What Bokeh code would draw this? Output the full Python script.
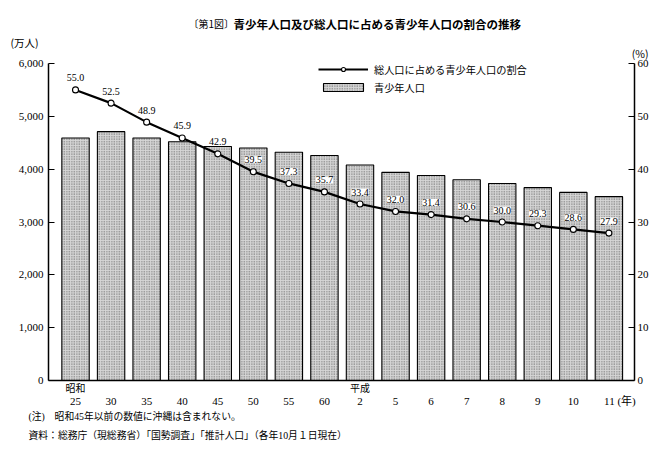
from bokeh.plotting import figure
from bokeh.models import (Range1d, LinearAxis, FixedTicker, NumeralTickFormatter,
                          ColumnDataSource, LabelSet, Title, Legend, LegendItem)
from bokeh.core.properties import value
from bokeh.embed import file_html
from bokeh.resources import INLINE

# ---- data ----
years = ["25", "30", "35", "40", "45", "50", "55", "60",
         "2", "5", "6", "7", "8", "9", "10", "11"]
era_labels = {0: "昭和", 8: "平成"}
youth_pop = [4590, 4710, 4590, 4520, 4430, 4400, 4320, 4260,
             4080, 3940, 3880, 3800, 3730, 3650, 3560, 3480]
youth_share = [55.0, 52.5, 48.9, 45.9, 42.9, 39.5, 37.3, 35.7,
               33.4, 32.0, 31.4, 30.6, 30.0, 29.3, 28.6, 27.9]
left_ticks = [0, 1000, 2000, 3000, 4000, 5000, 6000]
right_ticks = [0, 10, 20, 30, 40, 50, 60]
title_prefix = "〔第1図〕"
title_main = "青少年人口及び総人口に占める青少年人口の割合の推移"
legend_line = "総人口に占める青少年人口の割合"
legend_bar = "青少年人口"
note1 = "(注)　昭和45年以前の数値に沖縄は含まれない。"
note2 = "資料：総務庁（現総務省）「国勢調査」「推計人口」（各年10月１日現在）"
left_unit = "(万人)"
right_unit = "(%)"
x_unit = "(年)"

SERIF = "Liberation Serif, Noto Sans CJK JP"
JP = "Noto Sans CJK JP"

idx = list(range(len(years)))
share_text = ["%.1f" % v for v in youth_share]
src = ColumnDataSource(dict(x=idx, pop=youth_pop, share=youth_share, txt=share_text))

p = figure(width=651, height=442, output_backend="svg", toolbar_location=None,
           x_range=Range1d(-0.76, 15.72), y_range=Range1d(0, 6000),
           min_border_left=48, min_border_right=17, min_border_top=63,
           min_border_bottom=60)
p.title = None
p.outline_line_color = None
p.background_fill_color = "white"
p.border_fill_color = "white"
p.xgrid.visible = False
p.ygrid.visible = False
p.extra_y_ranges = {"pct": Range1d(0, 60)}

bars = p.vbar(x="x", top="pop", width=0.77, bottom=0, source=src,
              fill_color="#d6d6d6", line_color="black", line_width=1.1,
              hatch_pattern="dot", hatch_scale=2.5, hatch_weight=1,
              hatch_color="#5a5a5a")
ln = p.line(x="x", y="share", source=src, y_range_name="pct",
            line_color="black", line_width=2.2)
mk = p.scatter(x="x", y="share", source=src, y_range_name="pct", size=6,
               fill_color="white", line_color="black", line_width=1.1)

labels = LabelSet(x="x", y="share", text="txt", source=src, y_range_name="pct",
                  y_offset=12, text_align="center", text_baseline="middle",
                  text_font=value(SERIF), text_font_size="10px", text_color="black",
                  background_fill_color="white")
p.add_layout(labels)

# ---- x axes: era row (primary) and year-number row ----
xa = p.xaxis[0]
xa.ticker = FixedTicker(ticks=list(era_labels.keys()))
xa.major_label_overrides = dict(era_labels)
xa.major_tick_line_color = None
xa.minor_tick_line_color = None
xa.major_tick_out = 0
xa.major_tick_in = 0
xa.axis_line_width = 1.5
xa.axis_line_color = "black"
xa.major_label_standoff = -1
xa.major_label_text_font = JP
xa.major_label_text_font_size = "10px"
xa.major_label_text_color = "black"

year_tick_labels = {i: y for i, y in enumerate(years)}
year_tick_labels[idx[-1]] = "\u3000\u3000" + years[-1] + " " + x_unit
xn = LinearAxis(ticker=FixedTicker(ticks=idx), major_label_overrides=year_tick_labels,
                axis_line_color=None, major_tick_line_color=None,
                minor_tick_line_color=None, major_tick_out=0, major_tick_in=0,
                major_label_standoff=-3, major_label_text_font=SERIF,
                major_label_text_font_size="11px", major_label_text_color="black")
p.add_layout(xn, "below")

# ---- y axes ----
ya = p.yaxis[0]
ya.ticker = FixedTicker(ticks=left_ticks)
ya.formatter = NumeralTickFormatter(format="0,0")
ya.major_tick_in = 6
ya.major_tick_out = 0
ya.minor_tick_line_color = None
ya.axis_line_width = 1.5
ya.major_label_standoff = 5
ya.major_label_text_font = SERIF
ya.major_label_text_font_size = "11px"
ya.major_label_text_color = "black"

ra = LinearAxis(y_range_name="pct", ticker=FixedTicker(ticks=right_ticks))
ra.major_tick_in = 6
ra.major_tick_out = 0
ra.minor_tick_line_color = None
ra.axis_line_width = 1.5
ra.major_label_standoff = 3
ra.major_label_text_font = SERIF
ra.major_label_text_font_size = "11px"
ra.major_label_text_color = "black"
p.add_layout(ra, "right")

# ---- titles / unit labels (above, nearest first) ----
p.add_layout(Title(text=right_unit, align="right", offset=-14, vertical_align="middle",
                   standoff=3.4, text_font=JP, text_font_size="10.5px",
                   text_font_style="normal", text_color="black"), "above")
p.add_layout(Title(text=left_unit, align="left", offset=-38, vertical_align="middle",
                   standoff=-13.8, text_font=JP, text_font_size="10.5px",
                   text_font_style="normal", text_color="black"), "above")
p.add_layout(Title(text=title_main, align="left", offset=185, vertical_align="middle",
                   standoff=15.9, text_font=JP, text_font_size="11.5px",
                   text_font_style="bold", text_color="black"), "above")
# zero-height row, text pushed down onto the main title's line
p.add_layout(Title(text=title_prefix, align="left", offset=140, vertical_align="bottom",
                   standoff=-49.1, text_font=JP, text_font_size="10px",
                   text_font_style="normal", text_color="black"), "above")

# ---- notes (below) ----
p.add_layout(Title(text=note1, align="left", offset=-20, vertical_align="top",
                   standoff=3, text_font=SERIF, text_font_size="9.8px",
                   text_font_style="normal", text_color="black"), "below")
p.add_layout(Title(text=note2, align="left", offset=-20, vertical_align="bottom",
                   standoff=4, text_font=SERIF, text_font_size="9.8px",
                   text_font_style="normal", text_color="black"), "below")

legend = Legend(items=[LegendItem(label=legend_line, renderers=[ln, mk]),
                       LegendItem(label=legend_bar, renderers=[bars])],
                location=(270, 285.2), padding=0, margin=0, spacing=3,
                glyph_width=50, glyph_height=10, label_height=10, label_standoff=6,
                label_text_font=JP, label_text_font_size="10.2px",
                label_text_color="black", background_fill_alpha=0,
                border_line_color=None)
p.add_layout(legend)

open("out.html", "w").write(file_html(p, INLINE))
